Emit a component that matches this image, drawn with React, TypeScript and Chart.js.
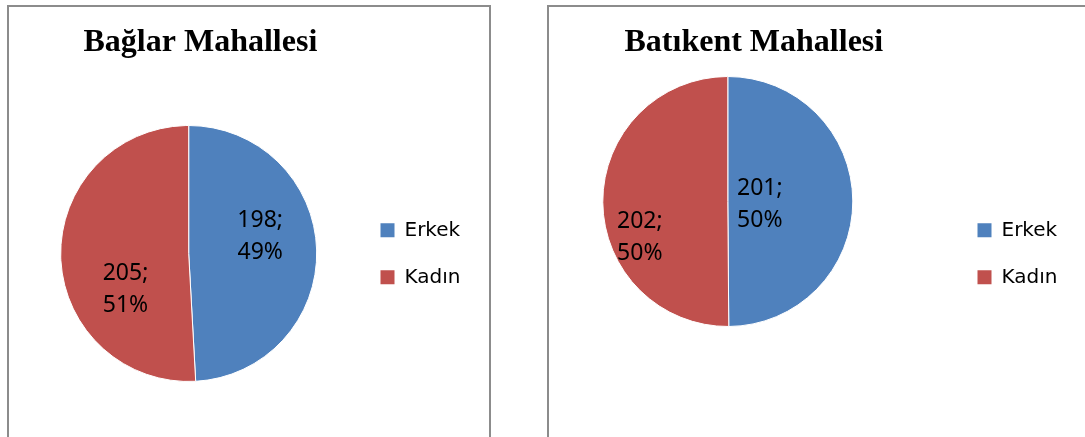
import React, { useEffect, useRef } from 'react';
import { Chart, registerables } from 'chart.js';

Chart.register(...registerables);

// ---------- data ----------
const categories = ['Erkek', 'Kadın'];
const baglarValues = [198, 205];
const batikentValues = [201, 202];
const chartTitles = ['Bağlar Mahallesi', 'Batıkent Mahallesi'];

// ---------- styles ----------
const sliceColors = ['#4F81BD', '#C0504D'];
const FRAME_COLOR = '#8c8c8c';
const TITLE_FONT_SIZE = 32;
const TITLE_LINE = TITLE_FONT_SIZE * 1.2;
const LEGEND_FONT_SIZE = 20;
const LEGEND_BOX = 14;
const LEGEND_PAD = 27;
const LABEL_FONT_SIZE = 23;
const LABEL_LINE = 32;

type LabelPlacement = { turn: number; frac: number };
type PanelStyle = {
  frame: { left: number; top: number; width: number; height: number };
  canvas: { left: number; top: number; width: number; height: number };
  pieCenter: [number, number];
  radius: number;
  titleAt: [number, number];
  legendAt: [number, number];
  labelPlacement: LabelPlacement[];
};

const PANELS: { title: string; values: number[]; style: PanelStyle }[] = [
  {
    title: chartTitles[0],
    values: baglarValues,
    style: {
      frame: { left: 7, top: 5, width: 484, height: 470 },
      canvas: { left: 9, top: 7, width: 480, height: 430 },
      pieCenter: [188.7, 253.5],
      radius: 128,
      titleAt: [83.5, 42.3],
      legendAt: [380.5, 230.3],
      labelPlacement: [
        { turn: -12.2, frac: 0.575 },
        { turn: -28.4, frac: 0.57 },
      ],
    },
  },
  {
    title: chartTitles[1],
    values: batikentValues,
    style: {
      frame: { left: 547, top: 5, width: 600, height: 470 },
      canvas: { left: 549, top: 7, width: 536, height: 430 },
      pieCenter: [727.8, 201.5],
      radius: 125,
      titleAt: [624.5, 42.3],
      legendAt: [977.5, 230.3],
      labelPlacement: [
        { turn: 4.7, frac: 0.257 },
        { turn: -22.1, frac: 0.761 },
      ],
    },
  },
];

// Moves the title and legend boxes to their places after Chart.js has laid out the chart.
function makePlacementPlugin(style: PanelStyle) {
  const ox = style.canvas.left;
  const oy = style.canvas.top;
  return {
    id: 'placement',
    afterLayout(chart: any) {
      const t = chart.titleBlock;
      if (t) {
        const w = t.right - t.left;
        const h = t.bottom - t.top;
        t.left = style.titleAt[0] - ox;
        t.right = t.left + w;
        t.top = style.titleAt[1] - oy - TITLE_LINE / 2;
        t.bottom = t.top + h;
      }
      const lg = chart.legend;
      if (lg) {
        const h = lg.height;
        lg.left = style.legendAt[0] - ox - LEGEND_PAD;
        lg.width = 200;
        lg.right = lg.left + lg.width;
        lg.top = style.legendAt[1] - oy - LEGEND_FONT_SIZE / 2 - LEGEND_PAD;
        lg.bottom = lg.top + h;
      }
    },
  };
}

// Draws "value;\npercent%" inside each slice, placed relative to the slice's own angle.
function makeSliceLabelPlugin(placement: LabelPlacement[]) {
  return {
    id: 'sliceLabels',
    afterDatasetsDraw(chart: any) {
      const meta = chart.getDatasetMeta(0);
      const values = chart.data.datasets[0].data as number[];
      const total = values.reduce((a, b) => a + b, 0);
      const ctx = chart.ctx as CanvasRenderingContext2D;
      ctx.save();
      ctx.font = `${LABEL_FONT_SIZE}px 'Noto Sans', sans-serif`;
      ctx.fillStyle = '#000';
      ctx.textAlign = 'center';
      ctx.textBaseline = 'middle';
      meta.data.forEach((el: any, i: number) => {
        const { x, y, startAngle, endAngle, outerRadius } = el.getProps(
          ['x', 'y', 'startAngle', 'endAngle', 'outerRadius'],
          true
        );
        const p = placement[i];
        const a = (startAngle + endAngle) / 2 + (p.turn * Math.PI) / 180;
        const r = outerRadius * p.frac;
        const cx = x + Math.cos(a) * r;
        const cy = y + Math.sin(a) * r;
        const pct = Math.round((values[i] / total) * 100);
        ctx.fillText(`${values[i]};`, cx, cy - LABEL_LINE / 2);
        ctx.fillText(`${pct}%`, cx, cy + LABEL_LINE / 2);
      });
      ctx.restore();
    },
  };
}

function PiePanel({ title, values, style }: { title: string; values: number[]; style: PanelStyle }) {
  const ref = useRef<HTMLCanvasElement>(null);

  useEffect(() => {
    const canvas = ref.current;
    if (!canvas) return;
    const W = style.canvas.width;
    const H = style.canvas.height;
    const cx = style.pieCenter[0] - style.canvas.left;
    const cy = style.pieCenter[1] - style.canvas.top;
    const s = 2 * cy - TITLE_LINE - H;
    const padding = {
      left: 0,
      right: W - 2 * cx,
      top: Math.max(0, s),
      bottom: Math.max(0, -s),
    };

    const chart = new Chart(canvas, {
      type: 'pie',
      data: {
        labels: categories,
        datasets: [
          {
            data: values,
            backgroundColor: sliceColors,
            borderColor: '#ffffff',
            borderWidth: 1,
          },
        ],
      },
      options: {
        responsive: false,
        animation: false,
        events: [],
        radius: style.radius,
        layout: { padding },
        plugins: {
          title: {
            display: true,
            text: title,
            align: 'start',
            color: '#000',
            padding: 0,
            font: {
              family: "'Liberation Serif', 'Times New Roman', serif",
              size: TITLE_FONT_SIZE,
              weight: 'bold',
              lineHeight: 1.2,
            },
          },
          legend: {
            display: true,
            position: 'chartArea',
            align: 'start',
            labels: {
              color: '#000',
              boxWidth: LEGEND_BOX,
              boxHeight: LEGEND_BOX,
              padding: LEGEND_PAD,
              font: { family: "'DejaVu Sans', sans-serif", size: LEGEND_FONT_SIZE },
              generateLabels: (c: any) =>
                (c.data.labels as string[]).map((label, i) => ({
                  text: label,
                  fillStyle: (c.data.datasets[0].backgroundColor as string[])[i],
                  strokeStyle: 'rgba(0,0,0,0)',
                  lineWidth: 0,
                  fontColor: '#000',
                  hidden: false,
                  index: i,
                })),
            },
          },
          tooltip: { enabled: false },
        },
      } as any,
      plugins: [makePlacementPlugin(style), makeSliceLabelPlugin(style.labelPlacement)],
    });
    return () => chart.destroy();
  }, [title, values, style]);

  return (
    <>
      <div
        style={{
          position: 'absolute',
          left: style.frame.left,
          top: style.frame.top,
          width: style.frame.width,
          height: style.frame.height,
          border: `2px solid ${FRAME_COLOR}`,
          boxSizing: 'border-box',
        }}
      />
      <canvas
        ref={ref}
        width={style.canvas.width}
        height={style.canvas.height}
        style={{
          position: 'absolute',
          left: style.canvas.left,
          top: style.canvas.top,
          width: style.canvas.width,
          height: style.canvas.height,
        }}
      />
    </>
  );
}

export default function App() {
  return (
    <div
      style={{
        position: 'absolute',
        left: 0,
        top: 0,
        width: 1085,
        height: 437,
        overflow: 'hidden',
        background: '#ffffff',
      }}
    >
      {PANELS.map((p) => (
        <PiePanel key={p.title} title={p.title} values={p.values} style={p.style} />
      ))}
    </div>
  );
}
